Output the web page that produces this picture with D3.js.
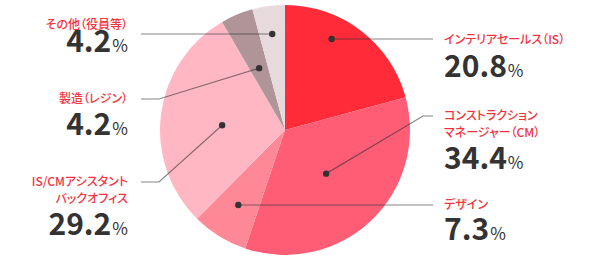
<!DOCTYPE html>
<html><head><meta charset="utf-8">
<script src="https://cdn.jsdelivr.net/npm/d3@7"></script>
<style>
html,body{margin:0;padding:0;background:#fff;}
svg{display:block;font-family:"Noto Sans CJK JP","Noto Sans",sans-serif;}
.lab{font-feature-settings:"palt";}
</style></head><body>
<svg id="c" width="600" height="260"></svg>
<script>
// data
const categories = ["インテリアセールス（IS）","コンストラクション\nマネージャー（CM）","デザイン","IS/CMアシスタント\nバックオフィス","製造（レジン）","その他（役員等）"];
const values = [20.8, 34.4, 7.3, 29.2, 4.2, 4.2];
const valueLabels = ["20.8","34.4","7.3","29.2","4.2","4.2"];
const colors = ["#ff2b39","#ff5d75","#ff8897","#ffb8c3","#af9598","#e6dadc"];

// layout (not data)
const dotRadius = [102, 60, 89, 63, 67, 97];
const dotAngleShift = [-10.2, 0, 0, -3, 0, 0]; // degrees
const side = ["r","r","r","l","l","l"];
const labelY = [44, 120, 209, 186, 103, 29];
const pctY = [77, 169, 240, 235, 135, 52];
const lineY = [39, 116, 205, 182, 99, 34];

const svg = d3.select("#c");
const cx = 285, cy = 130, R = 125;
const g = svg.append("g").attr("transform",`translate(${cx},${cy})`);
const pie = d3.pie().sort(null).value(d=>d)(values);
const arc = d3.arc().innerRadius(0).outerRadius(R);
g.selectAll("path").data(pie).join("path").attr("d",arc).attr("fill",(d,i)=>colors[i]);

const rad = Math.PI/180;
pie.forEach((d,i)=>{
  const a = (d.startAngle+d.endAngle)/2 + dotAngleShift[i]*rad;
  const px = cx + dotRadius[i]*Math.sin(a), py = cy - dotRadius[i]*Math.cos(a);
  const isR = side[i]==="r";
  const endX = isR ? 433 : 141;
  const elbowX = isR ? 423 : 159;
  const ly = lineY[i];
  let pts;
  if (Math.abs(py-ly) < 3) pts = [[px,ly],[endX,ly]];
  else pts = [[px,py],[elbowX,ly],[endX,ly]];
  svg.append("path").attr("d",d3.line()(pts)).attr("fill","none")
     .attr("stroke","#333").attr("stroke-opacity",0.6).attr("stroke-width",1.2);
  svg.append("circle").attr("cx",px).attr("cy",Math.abs(py-ly)<3?ly:py).attr("r",3.2).attr("fill","#333");

  const tx = isR ? 444 : 128;
  const anchor = isR ? "start" : "end";
  const lines = categories[i].split("\n");
  const t = svg.append("text").attr("class","lab").attr("x",tx).attr("text-anchor",anchor)
    .attr("font-size",12).attr("fill","#f5333f").attr("font-weight",500);
  lines.forEach((s,k)=>{
    t.append("tspan").attr("x",tx).attr("y",labelY[i]+k*16.5).text(s);
  });
  const p = svg.append("text").attr("x",tx).attr("y",pctY[i]).attr("text-anchor",anchor).attr("fill","#333");
  p.append("tspan").attr("font-size",30).attr("font-weight",700).text(valueLabels[i]);
  p.append("tspan").attr("font-size",17).attr("font-weight",400).attr("dx",1).text("%");
});
</script></body></html>
